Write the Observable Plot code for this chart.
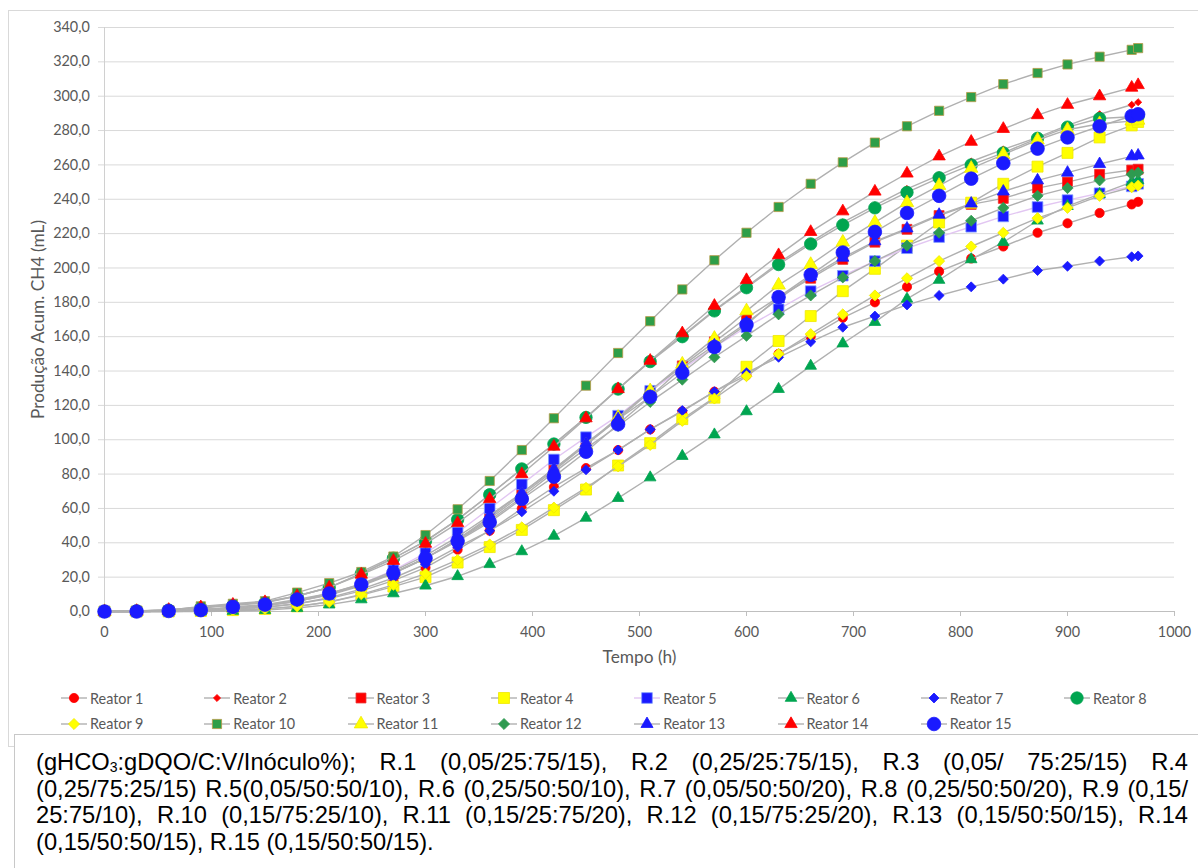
<!DOCTYPE html>
<html>
<head>
<meta charset="utf-8">
<script src="https://cdn.jsdelivr.net/npm/d3@7"></script>
<script src="https://cdn.jsdelivr.net/npm/@observablehq/plot@0.6"></script>
<style>
  html, body { margin: 0; padding: 0; background: #fff; }
  #page { position: relative; width: 1198px; height: 868px; overflow: hidden; background: #fff; }
  #frame { position: absolute; left: 8px; top: 10px; width: 1200px; height: 737px; border: 1px solid #D9D9D9; box-sizing: border-box; }
  #chart { position: absolute; left: 0; top: 0; }
  .item { position: absolute; display: flex; align-items: center; font-family: Lato, sans-serif; font-size: 14.4px; color: #595959; white-space: nowrap; }
  .item svg { display: block; margin-right: 3px; }
  #caption { position: absolute; left: 14px; top: 734px; width: 1200px; height: 200px; border: 1px solid #C8C8C8; background: #fff; box-sizing: border-box; padding: 14px 0 0 21px; font-family: "Liberation Sans", Arial, sans-serif; font-size: 23.7px; color: #000; }
  #caption .ln { width: 1152px; line-height: 26.7px; height: 26.7px; text-align: justify; text-align-last: justify; }
  #caption .ln.last { text-align: left; text-align-last: left; }
  #caption sub { font-size: 14px; vertical-align: -2px; line-height: 0; }
</style>
</head>
<body>
<div id="page">
  <div id="frame"></div>
  <div id="chart"></div>
  <div id="legend"></div>
  <div id="caption">
    <div class="ln">(gHCO<sub>3</sub>:gDQO/C:V/Inóculo%); R.1 (0,05/25:75/15), R.2 (0,25/25:75/15), R.3 (0,05/ 75:25/15) R.4</div>
    <div class="ln">(0,25/75:25/15) R.5(0,05/50:50/10), R.6 (0,25/50:50/10), R.7 (0,05/50:50/20), R.8 (0,25/50:50/20), R.9 (0,15/</div>
    <div class="ln">25:75/10), R.10 (0,15/75:25/10), R.11 (0,15/25:75/20), R.12 (0,15/75:25/20), R.13 (0,15/50:50/15), R.14</div>
    <div class="ln last">(0,15/50:50/15), R.15 (0,15/50:50/15).</div>
  </div>
</div>
<script>
// Sampling times (h)
const hours = [0,30,60,90,120,150,180,210,240,270,300,330,360,390,420,450,480,510,540,570,600,630,660,690,720,750,780,810,840,872,900,930,960,966];

// Cumulative CH4 production (mL) per reactor
const r1  = [0,0,0.2,0.8,1.5,2.5,4.5,7.5,12,18,25.5,36,47,60,72.5,83.5,94,106,116.5,128,137.5,150,160,171,180,189,198,205.5,212.5,220.5,226,232,237,238.5];
const r2  = [0,0.3,0.8,2.5,4,5.5,9,14,22,31,41,53.5,68,83,97.5,113,129.5,146,160.5,175.5,189,203,215,226.5,236.5,246,254,262,269,276,283,289.5,295,296.5];
const r3  = [0,0,0.3,1,2,3.5,6,9.5,15,22,31,42,55,69,83,97,112,128,143,157,171,183,194,205,215,222.5,230.5,237,240.5,246.5,250,254.5,257,257.5];
const r4  = [0,0,0,0.3,0.8,1.5,3,5.5,9.5,14.5,20,28.5,37.5,47.5,59,71,85,98,112,124.5,142.5,157.5,172,186.5,199.5,213,226.5,238,249,259,267,276,283,285];
const r5  = [0,0,0.3,1,2,3.5,6,10,16,24,34,46,60,74,88.5,101.5,114,128.5,141,154,165.5,176,186.5,195.5,204,211.5,218,224,230,235.5,239.5,243.5,247.5,249];
const r6  = [0,0,0,0,0.3,0.8,2,4,7,10.5,15,20.5,27.5,35,44,54.5,66,78,90.5,103,116.5,129.5,143,156,168.5,182,193,205,215,227.5,236,243,250,251];
const r7  = [0,0,0.2,0.8,1.5,2.5,4.5,8,13,19.5,27.5,37.5,47,58,70,82.5,94,106,117,128,139,148,157,165.5,172,178.5,184,189,193.5,198.5,201,204,206.5,207];
const r8  = [0,0.3,0.8,2,3.5,5,9,14,22,31,41,53.5,68,83,97.5,113,129.5,145.5,160,175,188.5,202,214,225,235,244,252.5,260,267,275.5,282,287,288,288.5];
const r9  = [0,0,0,0.3,0.8,1.5,3,5.5,10,15.5,22,30,39,49,60.5,72,84.5,97,111,124,137,150,161.5,173,184,194,204,212.5,220.5,229,235,242,247,248];
const r10 = [0,0.3,0.8,3,4.5,6,11,16.5,23,32,44.5,59.5,76,94,112.5,131.5,150.5,169,187.5,204.5,220.5,235.5,249,261.5,273,282.5,291.5,299.5,307,313.5,318.5,323,327,328];
const r11 = [0,0,0.3,1,2,3.5,6,10,15.5,22.5,31,42,54,68,82,97,113,128.5,144,159,175,190,202,215,226.5,238,248,258,266,274.5,280.5,284,285.5,286];
const r12 = [0,0,0.3,1,2,3.5,6,10,15.5,22.5,31,41.5,53,66.5,81,95,108,122,135,148,160.5,173,184,194.5,204,213,220.5,227.5,235,242,246.5,251,254.5,255.5];
const r13 = [0,0,0.3,1,2,3.5,6.5,10.5,16,23.5,32.5,43.5,56,69,83,98,112,125,142,155,168,182,195,206,215.5,223,231,237.5,244.5,251,255.5,260.5,265,265.5];
const r14 = [0,0.3,1,2.5,4,5.5,9,14,21.5,29.5,39.5,51.5,65.5,80,96,112.5,129.5,146,162,178,193,207.5,221,233,244.5,255,265,273.5,281,289,295,300,305,306.5];
const r15 = [0,0,0.3,0.8,2.7,4,7,10.5,15.7,22.4,31,41,52,65.5,78.5,93,109,125,139,154,167,183,196,209,221,232,242,252,261,269.5,276,282.5,288.5,289.5];

const names = ["Reator 1","Reator 2","Reator 3","Reator 4","Reator 5","Reator 6","Reator 7","Reator 8",
               "Reator 9","Reator 10","Reator 11","Reator 12","Reator 13","Reator 14","Reator 15"];

// Axis ticks
const yTicks = d3.range(0, 341, 20);
const xTicks = d3.range(0, 1001, 100);

// Marker styling per reactor
const fills   = ["#FF0000","#FF0000","#FF0000","#FFFF00","#1A1AFF","#00A550","#1A1AFF","#00A550","#FFFF00","#2E9E48","#FFFF00","#2E9A50","#1A1AFF","#FF0000","#1A1AFF"];
const strokes = ["#FF0000","#FF0000","#E83030","#F0E800","#7F9CFF","#00A550","#1A1AFF","#00A550","#F0E800","#B89A48","#F0E800","#2E9A50","#1A1AFF","#FF0000","#1A1AFF"];
const symbols = ["circle","diamond2","square","square","square","triangle","diamond2","circle","diamond2","square","triangle","diamond2","triangle","triangle","circle"];
const radii   = [4.6,3.2,5.6,6.2,6.0,4.3,4.5,6.2,5.0,5.2,5.0,5.0,4.5,4.6,6.8];
const lineColors = ["#B0B0B0","#B0B0B0","#B0B0B0","#B0B0B0","#E2C6F2","#B0B0B0","#B0B0B0","#B0B0B0","#B0B0B0","#B0B0B0","#B0B0B0","#B0B0B0","#B0B0B0","#B0B0B0","#B0B0B0"];

const series = [r1,r2,r3,r4,r5,r6,r7,r8,r9,r10,r11,r12,r13,r14,r15];
const rowsBySeries = series.map((vals, k) => vals.map((v, j) => ({reactor: names[k], t: hours[j], v})));

const fmt = d => d.toFixed(1).replace(".", ",");

const marks = [
  Plot.gridY({ticks: yTicks, stroke: "#D9D9D9", strokeOpacity: 1}),
  Plot.ruleX([0], {stroke: "#D0D0D0"}),
  Plot.axisY({ticks: yTicks, tickSize: 6, tickPadding: 8.7, stroke: "#D9D9D9", tickFormat: fmt, label: null}),
  Plot.ruleY([0], {stroke: "#BFBFBF"}),
  Plot.axisX({ticks: xTicks, tickSize: 5, tickPadding: 10.5, stroke: "#BFBFBF", tickFormat: d => String(d), label: null})
];

// Each reactor: connecting line, then its markers (later reactors drawn on top)
rowsBySeries.forEach((rows, k) => {
  marks.push(Plot.line(rows, {x: "t", y: "v", stroke: lineColors[k], strokeWidth: 1.4}));
  marks.push(Plot.dot(rows, {x: "t", y: "v", symbol: symbols[k], r: radii[k], fill: fills[k], stroke: strokes[k], strokeWidth: 0.8}));
});

marks.push(Plot.text(["Tempo (h)"], {text: d => d, frameAnchor: "bottom", dy: 46, textAnchor: "middle", lineAnchor: "middle", fontSize: 17.3}));
marks.push(Plot.text(["Produção Acum. CH4 (mL)"], {text: d => d, frameAnchor: "left", dx: -66.5, rotate: -90, textAnchor: "middle", lineAnchor: "middle", fontSize: 17.3}));

const chart = Plot.plot({
  width: 1198,
  height: 680,
  marginTop: 27,
  marginBottom: 69,
  marginLeft: 104,
  marginRight: 24,
  x: {domain: [0, 1000]},
  y: {domain: [0, 340]},
  style: {fontFamily: "Lato, sans-serif", fontSize: "14.4px", color: "#595959", background: "transparent", overflow: "visible"},
  marks
});
document.getElementById("chart").appendChild(chart);

// Legend: two rows, eight columns
const symbolTypes = {circle: d3.symbolCircle, square: d3.symbolSquare, triangle: d3.symbolTriangle, diamond2: d3.symbolDiamond2};
const legend = d3.select("#legend");
names.forEach((name, k) => {
  const col = k % 8, row = Math.floor(k / 8);
  const cx = 74 + 143.3 * col, cy = row === 0 ? 698 : 723.5;
  const item = legend.append("div").attr("class", "item")
    .style("left", (cx - 13) + "px").style("top", (cy - 10) + "px").style("height", "20px");
  const svg = item.append("svg").attr("width", 26).attr("height", 20);
  svg.append("line").attr("x1", 0).attr("x2", 26).attr("y1", 10).attr("y2", 10)
    .attr("stroke", lineColors[k]).attr("stroke-width", 1.4);
  svg.append("path")
    .attr("d", d3.symbol(symbolTypes[symbols[k]], radii[k] * radii[k] * Math.PI)())
    .attr("transform", "translate(13,10)")
    .attr("fill", fills[k]).attr("stroke", strokes[k]).attr("stroke-width", 0.8);
  item.append("span").text(name);
});
</script>
</body>
</html>
